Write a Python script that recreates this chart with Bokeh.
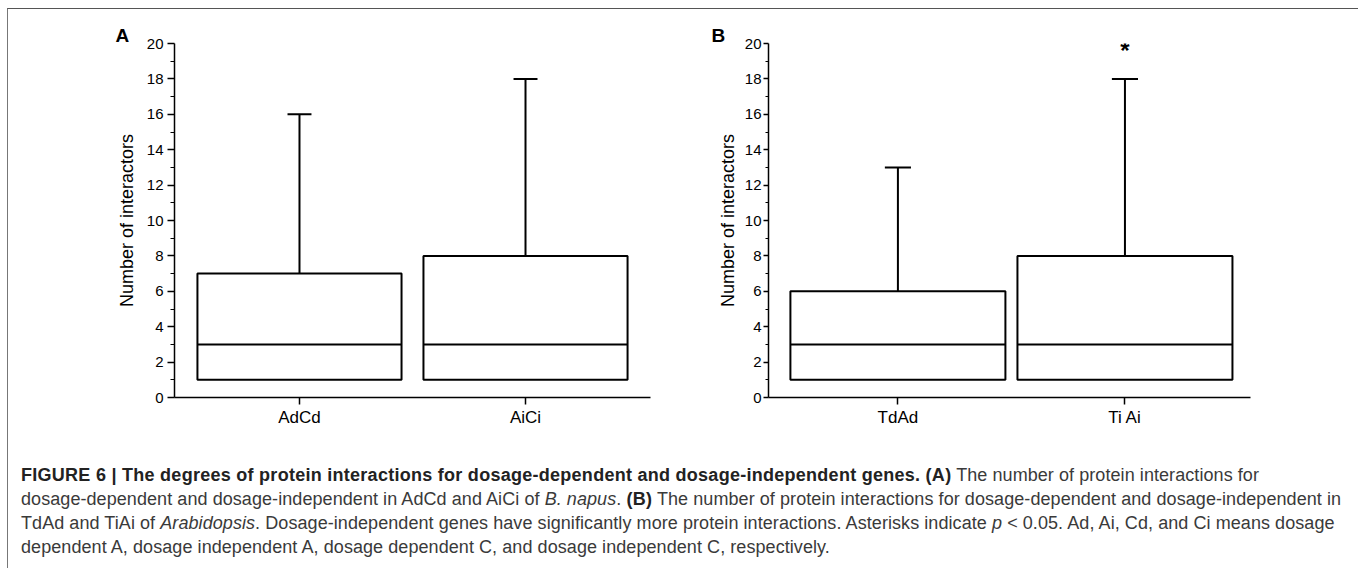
from bokeh.plotting import figure
from bokeh.models import Range1d, FixedTicker, Div, ColumnDataSource
from bokeh.layouts import row, column
from bokeh.core.properties import value
from bokeh.embed import file_html
from bokeh.resources import INLINE

# ---------------- data ----------------
cats_A = ["AdCd", "AiCi"]
min_A = [1, 1]
q1_A = [1, 1]
med_A = [3, 3]
q3_A = [7, 8]
max_A = [16, 18]
sig_A = ["", ""]

cats_B = ["TdAd", "Ti Ai"]
min_B = [1, 1]
q1_B = [1, 1]
med_B = [3, 3]
q3_B = [6, 8]
max_B = [13, 18]
sig_B = ["", "*"]

y_ticks = [0, 2, 4, 6, 8, 10, 12, 14, 16, 18, 20]
y_minor = [1, 3, 5, 7, 9, 11, 13, 15, 17, 19]
y_label = "Number of interactors"

FONT = "Liberation Sans"


def panel(letter, cats, mins, q1, med, q3, maxs, sig, cfg):
    xs = [i + 1 for i in range(len(cats))]
    p = figure(width=cfg["w"], height=449, title=letter,
               x_range=Range1d(cfg["xlo"], cfg["xhi"]), y_range=Range1d(0, 20),
               output_backend="svg", toolbar_location=None,
               min_border_left=cfg["mbl"], min_border_right=cfg["mbr"],
               min_border_top=34, min_border_bottom=61)
    p.grid.visible = False
    p.outline_line_color = None
    p.background_fill_color = "white"
    p.border_fill_color = "white"

    t = p.title
    t.align = "left"
    t.offset = cfg["t_off"]
    t.standoff = -4
    t.text_font = FONT
    t.text_font_size = "19px"
    t.text_font_style = "bold"
    t.text_color = "black"

    bw = cfg["bw"]
    cw = cfg["cw"]
    src = ColumnDataSource(dict(
        x=xs, mn=mins, q1=q1, med=med, q3=q3, mx=maxs,
        xl=[x - bw / 2 for x in xs], xr=[x + bw / 2 for x in xs],
        cl=[x - cw / 2 for x in xs], cr=[x + cw / 2 for x in xs],
        sig=sig, sy=[m + cfg["sig_off"] for m in maxs]))

    # whiskers
    p.segment(x0="x", x1="x", y0="q3", y1="mx", source=src, line_color="black", line_width=2)
    p.segment(x0="x", x1="x", y0="mn", y1="q1", source=src, line_color="black", line_width=2)
    p.segment(x0="cl", x1="cr", y0="mx", y1="mx", source=src, line_color="black", line_width=2)
    # boxes
    p.quad(left="xl", right="xr", bottom="q1", top="q3", source=src,
           fill_color="white", line_color="black", line_width=2)
    p.segment(x0="xl", x1="xr", y0="med", y1="med", source=src, line_color="black", line_width=2)
    # significance
    p.text(x="x", y="sy", text="sig", source=src, text_align="center",
           text_baseline="alphabetic", text_font=value(FONT), text_font_size="24px",
           text_font_style="bold", text_color="black")

    # axes
    xa = p.xaxis[0]
    xa.ticker = FixedTicker(ticks=xs)
    xa.major_label_overrides = {x: c for x, c in zip(xs, cats)}
    xa.minor_tick_line_color = None
    xa.major_tick_in = 0
    xa.major_tick_out = 7
    xa.major_label_standoff = 3
    xa.major_label_text_font = FONT
    xa.major_label_text_font_size = "17px"
    xa.major_label_text_color = "black"
    xa.axis_line_width = 1.5
    xa.major_tick_line_width = 1.5
    xa.axis_line_color = "black"

    ya = p.yaxis[0]
    ya.ticker = FixedTicker(ticks=y_ticks, minor_ticks=y_minor)
    ya.major_tick_in = 0
    ya.major_tick_out = cfg["tick_out"]
    ya.minor_tick_in = 0
    ya.minor_tick_out = cfg["minor_out"]
    ya.major_label_standoff = cfg["lab_so"]
    ya.major_label_text_font = FONT
    ya.major_label_text_font_size = "15px"
    ya.major_label_text_color = "black"
    ya.axis_line_width = 1.5
    ya.major_tick_line_width = 1.5
    ya.minor_tick_line_width = 1.2
    ya.axis_line_color = "black"
    ya.axis_label = y_label
    ya.axis_label_text_font = FONT
    ya.axis_label_text_font_size = "18px"
    ya.axis_label_text_font_style = "normal"
    ya.axis_label_text_color = "black"
    ya.axis_label_standoff = cfg["ax_so"]
    return p


cfgA = dict(w=672, xlo=0.447, xhi=2.553, mbl=166, mbr=30, bw=0.903, cw=0.106,
            tick_out=7, minor_out=4, lab_so=4, ax_so=7, t_off=-59, sig_off=1.6)
cfgB = dict(w=674, xlo=0.430, xhi=2.553, mbl=88, mbr=104, bw=0.947, cw=0.115,
            tick_out=5, minor_out=3, lab_so=2, ax_so=4, t_off=-57, sig_off=1.6)

pA = panel("A", cats_A, min_A, q1_A, med_A, q3_A, max_A, sig_A, cfgA)
pB = panel("B", cats_B, min_B, q1_B, med_B, q3_B, max_B, sig_B, cfgB)

B = "<b style='color:#222;letter-spacing:0.27px'>"
caption_lines = [
    B + "FIGURE 6 | The degrees of protein interactions for dosage-dependent and dosage-independent genes. (A)</b> The number of protein interactions for",
    "dosage-dependent and dosage-independent in AdCd and AiCi of <i>B. napus</i>. " + B + "(B)</b> The number of protein interactions for dosage-dependent and dosage-independent in",
    "TdAd and TiAi of <i>Arabidopsis</i>. Dosage-independent genes have significantly more protein interactions. Asterisks indicate <i>p</i> &lt; 0.05. Ad, Ai, Cd, and Ci means dosage",
    "dependent A, dosage independent A, dosage dependent C, and dosage independent C, respectively.",
]
cap_html = ("<div style=\"font-family:'Liberation Sans',Arial,sans-serif;font-size:18px;"
            "letter-spacing:0.07px;line-height:24px;color:#3a3a3a;white-space:nowrap;"
            "padding-left:8px;\">"
            + "<br>".join(caption_lines) + "</div>")
cap = Div(text=cap_html, width=1346, height=100)

root = column(row(pA, pB), cap, margin=(8, 0, 0, 7),
              styles={"border-top": "1px solid #555", "border-left": "1px solid #777",
                      "border-right": "1px solid #777"})

open("out.html", "w").write(file_html(root, INLINE))
